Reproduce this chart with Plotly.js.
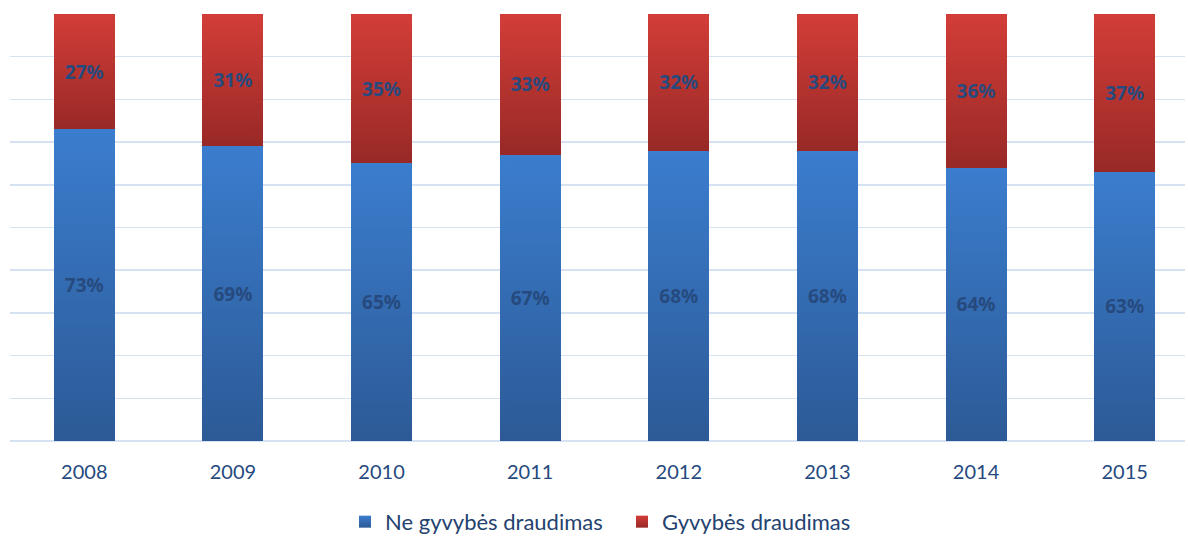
<!DOCTYPE html>
<html>
<head>
<meta charset="utf-8">
<script src="https://cdn.plot.ly/plotly-3.0.1.min.js"></script>
<style>html,body{margin:0;padding:0;background:#fff;}#chart{width:1188px;height:538px;}</style>
</head>
<body>
<div id="chart"></div>
<script>
const years = ['2008','2009','2010','2011','2012','2013','2014','2015'];
const neGyvybes = [73, 69, 65, 67, 68, 68, 64, 63];
const gyvybes = [27, 31, 35, 33, 32, 32, 36, 37];
const seriesNames = ['Ne gyvybės draudimas', 'Gyvybės draudimas'];

const labelColor = '#264A7E';
const font = 'Lato, "Noto Sans", sans-serif';
const boldFont = '"Noto Sans", sans-serif';

const traces = [
  {
    type: 'bar', name: seriesNames[0], x: years, y: neGyvybes,
    marker: {color: '#3469B0', line: {width: 0}},
    text: neGyvybes.map(v => v + '%'), textposition: 'inside', insidetextanchor: 'middle',
    textangle: 0,
    textfont: {family: boldFont, size: 19, color: labelColor, weight: 'bold'},
    hoverinfo: 'none'
  },
  {
    type: 'bar', name: seriesNames[1], x: years, y: gyvybes,
    marker: {color: '#B83431', line: {width: 0}},
    text: gyvybes.map(v => v + '%'), textposition: 'inside', insidetextanchor: 'middle',
    textangle: 0,
    textfont: {family: boldFont, size: 19, color: labelColor, weight: 'bold'},
    hoverinfo: 'none'
  }
];

const layout = {
  width: 1188, height: 538,
  margin: {l: 10, r: 3, t: 14, b: 97},
  barmode: 'stack',
  bargap: 0.59,
  paper_bgcolor: '#fff', plot_bgcolor: '#fff',
  showlegend: true,
  legend: {
    orientation: 'h', x: 345 / 1188, xanchor: 'left', xref: 'container',
    y: 0.03, yanchor: 'middle', yref: 'container',
    font: {family: font, size: 22, color: '#24426F'},
    traceorder: 'normal', itemwidth: 30, entrywidth: 232
  },
  xaxis: {
    type: 'category', range: [-0.5, 7.406],
    showgrid: false, zeroline: false, showline: false,
    ticks: '', tickfont: {family: font, size: 20, color: labelColor},
    ticklabelstandoff: 17
  },
  yaxis: {
    range: [0, 100], dtick: 10, showticklabels: false,
    showgrid: true, gridcolor: '#D6E2F2', gridwidth: 1.5,
    zeroline: true, zerolinecolor: '#D6E2F2', zerolinewidth: 1.5,
    showline: false, ticks: ''
  }
};

Plotly.newPlot('chart', traces, layout, {displayModeBar: false, staticPlot: true}).then(function(gd){
  const svg = gd.querySelector('svg.main-svg');
  const ns = 'http://www.w3.org/2000/svg';
  let defs = svg.querySelector('defs');
  function addGrad(id, top, bottom){
    const g = document.createElementNS(ns, 'linearGradient');
    g.setAttribute('id', id);
    g.setAttribute('x1','0'); g.setAttribute('y1','0'); g.setAttribute('x2','0'); g.setAttribute('y2','1');
    const s1 = document.createElementNS(ns,'stop'); s1.setAttribute('offset','0'); s1.setAttribute('stop-color', top);
    const s2 = document.createElementNS(ns,'stop'); s2.setAttribute('offset','1'); s2.setAttribute('stop-color', bottom);
    g.appendChild(s1); g.appendChild(s2); defs.appendChild(g);
  }
  addGrad('gBlue', '#3B7DCE', '#2C5A96');
  addGrad('gRed', '#D33D38', '#982926');
  const traceGroups = gd.querySelectorAll('.barlayer .trace');
  const ids = ['gBlue','gRed'];
  traceGroups.forEach(function(tg, i){
    tg.querySelectorAll('path').forEach(function(p){ p.style.fill = 'url(#' + ids[i] + ')'; });
  });
  const legendItems = gd.querySelectorAll('.legend .traces');
  legendItems.forEach(function(li, i){
    li.querySelectorAll('.legendpoints path').forEach(function(p){ p.style.fill = 'url(#' + ids[i] + ')'; });
  });
  gd.querySelectorAll('.legend [clip-path], .legend').forEach(function(el){ el.removeAttribute('clip-path'); });
});
</script>
</body>
</html>
